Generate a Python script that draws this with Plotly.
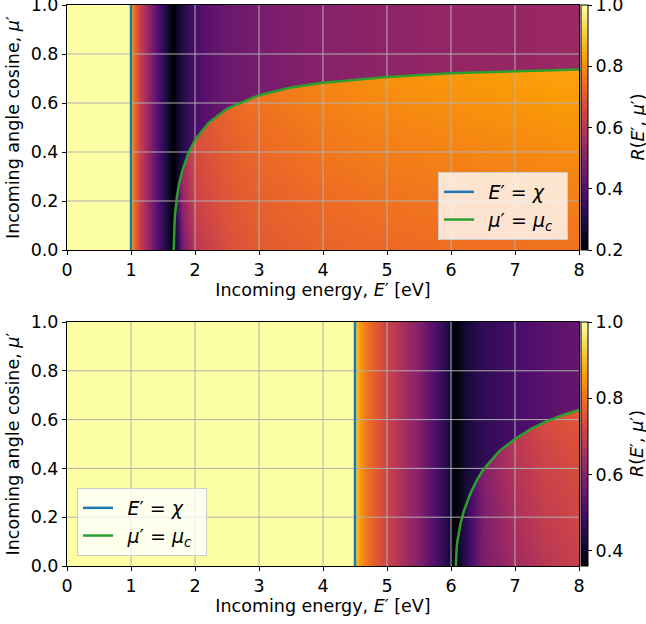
import numpy as np
import plotly.graph_objects as go

# ---------------- data ----------------
X_TICKS = [0, 1, 2, 3, 4, 5, 6, 7, 8]
Y_TICKS = [0.0, 0.2, 0.4, 0.6, 0.8, 1.0]

# Top panel (chi = 1 eV)
CHI_TOP = 1.0
ZMIN_TOP, ZMAX_TOP = 0.2, 1.0
CB_TICKS_TOP = [0.2, 0.4, 0.6, 0.8, 1.0]
E_ABOVE_TOP = [1.0, 1.01, 1.03, 1.06, 1.1, 1.15, 1.2, 1.3, 1.4, 1.5, 1.58, 1.64, 1.67,
               1.72, 1.8, 1.9, 2.0, 2.2, 2.5, 3.0, 4.0, 5.0, 6.0, 7.0, 8.0]
R_ABOVE_TOP = [0.95, 0.85, 0.77, 0.72, 0.67, 0.62, 0.58, 0.49, 0.41, 0.33, 0.26, 0.21, 0.2,
               0.25, 0.3, 0.34, 0.38, 0.41, 0.44, 0.465, 0.495, 0.51, 0.52, 0.527, 0.533]
E_BELOW_TOP = [1.67, 1.8, 2.0, 2.5, 3.0, 4.0, 5.0, 6.0, 7.0, 8.0]
MU_BELOW_TOP = [0.0, 0.25, 0.5, 0.75]
R_BELOW_TOP = [
    [0.20, 0.46, 0.60, 0.67, 0.70, 0.72, 0.73, 0.74, 0.745, 0.75],
    [0.30, 0.53, 0.645, 0.69, 0.715, 0.74, 0.755, 0.765, 0.77, 0.775],
    [0.40, 0.59, 0.67, 0.715, 0.74, 0.765, 0.78, 0.79, 0.80, 0.81],
    [0.50, 0.65, 0.71, 0.745, 0.765, 0.79, 0.81, 0.82, 0.83, 0.84],
]
E_MUC_TOP = [1.668, 1.672, 1.68, 1.69, 1.70, 1.72, 1.75, 1.8, 1.9, 2.0, 2.2, 2.5, 3.0,
             3.5, 4.0, 5.0, 6.0, 7.0, 8.0]
MU_MUC_TOP = [0.0, 0.06, 0.11, 0.15, 0.18, 0.222, 0.268, 0.322, 0.398, 0.448, 0.516, 0.576,
              0.632, 0.663, 0.683, 0.706, 0.721, 0.730, 0.737]

# Bottom panel (chi = 4.5 eV)
CHI_BOT = 4.5
ZMIN_BOT, ZMAX_BOT = 0.36, 1.0
CB_TICKS_BOT = [0.4, 0.6, 0.8, 1.0]
E_ABOVE_BOT = [4.5, 4.52, 4.6, 4.75, 5.0, 5.25, 5.5, 5.75, 5.9, 5.97, 6.02, 6.06, 6.1,
               6.2, 6.35, 6.5, 7.0, 7.5, 8.0]
R_ABOVE_BOT = [0.97, 0.90, 0.84, 0.775, 0.71, 0.65, 0.59, 0.51, 0.46, 0.42, 0.38, 0.36, 0.372,
               0.41, 0.44, 0.46, 0.50, 0.525, 0.545]
E_BELOW_BOT = [6.075, 6.3, 6.5, 7.0, 7.5, 8.0]
MU_BELOW_BOT = [0.0, 0.25, 0.5, 0.75]
R_BELOW_BOT = [
    [0.37, 0.50, 0.58, 0.64, 0.68, 0.70],
    [0.40, 0.49, 0.58, 0.66, 0.70, 0.72],
    [0.45, 0.54, 0.60, 0.68, 0.72, 0.74],
    [0.50, 0.59, 0.64, 0.71, 0.75, 0.77],
]
E_MUC_BOT = [6.075, 6.08, 6.09, 6.1, 6.12, 6.15, 6.2, 6.3, 6.4, 6.5, 6.75, 7.0, 7.25,
             7.5, 7.75, 8.0]
MU_MUC_BOT = [0.0, 0.045, 0.08, 0.102, 0.135, 0.175, 0.225, 0.295, 0.35, 0.393, 0.47,
              0.52, 0.562, 0.594, 0.619, 0.64]

# ---------------- build the raster tables ----------------
E_GRID = np.linspace(0, 8, 513)
MU_GRID = np.linspace(0, 1, 246)


def build_table(chi, e_ab, r_ab, e_be, mu_be, r_be, e_c, mu_c):
    above = np.interp(E_GRID, e_ab, r_ab)
    above[E_GRID < chi] = 1.0
    rows = np.array([np.interp(E_GRID, e_be, row) for row in r_be])
    below = np.empty((len(MU_GRID), len(E_GRID)))
    for j in range(len(E_GRID)):
        below[:, j] = np.interp(MU_GRID, mu_be, rows[:, j])
    muc = np.interp(E_GRID, e_c, mu_c)
    muc[E_GRID < e_c[0]] = -1.0
    mask = MU_GRID[:, None] < muc[None, :]
    z = np.where(mask, below, np.broadcast_to(above, below.shape))
    return np.round(z, 4)


Z_TOP = build_table(CHI_TOP, E_ABOVE_TOP, R_ABOVE_TOP, E_BELOW_TOP, MU_BELOW_TOP,
                    R_BELOW_TOP, E_MUC_TOP, MU_MUC_TOP)
Z_BOT = build_table(CHI_BOT, E_ABOVE_BOT, R_ABOVE_BOT, E_BELOW_BOT, MU_BELOW_BOT,
                    R_BELOW_BOT, E_MUC_BOT, MU_MUC_BOT)

# ---------------- figure ----------------
W, H = 646, 624
FONT = "DejaVu Sans"
FS = 17.5
BLUE = "#1f77b4"
GREEN = "#2ca02c"
GRID = "#b0b0b0"
SP = "\u2002"

X0, X1 = 67, 579
TOP_Y0, TOP_Y1 = 5, 250
BOT_Y0, BOT_Y1 = 322, 566


def fx(px):
    return px / W


def fy(py):
    return 1 - py / H


fig = go.Figure()
annotations = []


def add_panel(n, z, zmin, zmax, cbticks, chi, e_c, mu_c, y0, y1, legend_name):
    xa = "x" if n == 1 else "x2"
    ya = "y" if n == 1 else "y2"
    fig.add_trace(go.Heatmap(
        x=E_GRID, y=MU_GRID, z=z, zmin=zmin, zmax=zmax, colorscale="Inferno",
        xaxis=xa, yaxis=ya, zsmooth=False, hoverinfo="skip", showscale=True,
        colorbar=dict(
            x=fx(X1 + 2), xanchor="left", xpad=0, ypad=0,
            y=fy((y0 + y1) / 2), yanchor="middle", len=(y1 - y0) / H, lenmode="fraction",
            thickness=7, outlinewidth=1, outlinecolor="black",
            tickvals=cbticks, ticktext=[f"{v:.1f}" for v in cbticks],
            ticks="outside", ticklen=4, tickwidth=1, tickcolor="black",
            ticklabeloverflow="allow",
            tickfont=dict(family=FONT, size=FS, color="black"),
        ),
    ))
    annotations.append(dict(
        text="<i>R</i>(<i>E</i>′, <i>μ</i>′)", textangle=-90, showarrow=False,
        xref="paper", yref="paper", x=fx(637), y=fy((y0 + y1) / 2),
        xanchor="center", yanchor="middle",
        font=dict(family=FONT, size=FS, color="black"),
    ))
    # grid lines (drawn over the image, under the curves)
    gx, gy = [], []
    for t in X_TICKS[1:-1]:
        gx += [t, t, None]
        gy += [0, 1, None]
    for t in Y_TICKS[1:-1]:
        gx += [0, 8, None]
        gy += [t, t, None]
    fig.add_trace(go.Scatter(x=gx, y=gy, mode="lines", line=dict(color=GRID, width=1),
                             xaxis=xa, yaxis=ya, showlegend=False, hoverinfo="skip"))
    fig.add_trace(go.Scatter(x=[chi, chi], y=[0, 1], mode="lines",
                             line=dict(color=BLUE, width=2.5),
                             name=SP + "<i>E</i>′ = <i>χ</i>" + SP, legend=legend_name,
                             xaxis=xa, yaxis=ya, hoverinfo="skip"))
    fig.add_trace(go.Scatter(x=e_c, y=mu_c, mode="lines",
                             line=dict(color=GREEN, width=2.5),
                             name=SP + "<i>μ</i>′ = <i>μ</i><sub><i>c</i></sub>" + SP,
                             legend=legend_name,
                             xaxis=xa, yaxis=ya, hoverinfo="skip"))


add_panel(1, Z_TOP, ZMIN_TOP, ZMAX_TOP, CB_TICKS_TOP, CHI_TOP, E_MUC_TOP, MU_MUC_TOP,
          TOP_Y0, TOP_Y1, "legend")
add_panel(2, Z_BOT, ZMIN_BOT, ZMAX_BOT, CB_TICKS_BOT, CHI_BOT, E_MUC_BOT, MU_MUC_BOT,
          BOT_Y0, BOT_Y1, "legend2")


def xaxis(anchor):
    return dict(
        domain=[fx(X0), fx(X1)], anchor=anchor, range=[0, 8], tickvals=X_TICKS,
        ticktext=[str(v) for v in X_TICKS], showgrid=False, zeroline=False,
        showline=True, mirror=True, linecolor="black", linewidth=1,
        ticks="outside", ticklen=4, tickwidth=1, tickcolor="black",
        ticklabeloverflow="allow",
        tickfont=dict(family=FONT, size=FS, color="black"),
        title=dict(text="Incoming energy, <i>E</i>′ [eV]", standoff=4,
                   font=dict(family=FONT, size=FS, color="black")),
        automargin=False,
    )


def yaxis(anchor, y0, y1):
    return dict(
        domain=[fy(y1), fy(y0)], anchor=anchor, range=[0, 1], tickvals=Y_TICKS,
        ticktext=[f"{v:.1f}" for v in Y_TICKS], showgrid=False, zeroline=False,
        showline=True, mirror=True, linecolor="black", linewidth=1,
        ticks="outside", ticklen=4, tickwidth=1, tickcolor="black",
        ticklabeloverflow="allow",
        tickfont=dict(family=FONT, size=FS, color="black"),
        title=dict(text="Incoming angle cosine, <i>μ</i>′", standoff=6,
                   font=dict(family=FONT, size=FS, color="black")),
        automargin=False,
    )


legend_common = dict(
    bgcolor="rgba(255,255,255,0.8)", bordercolor="#cccccc", borderwidth=1,
    font=dict(family=FONT, size=19, color="black"),
)

fig.update_layout(
    width=W, height=H,
    margin=dict(l=0, r=0, t=0, b=0),
    paper_bgcolor="white", plot_bgcolor="white",
    font=dict(family=FONT, size=FS, color="black"),
    xaxis=xaxis("y"), yaxis=yaxis("x", TOP_Y0, TOP_Y1),
    xaxis2=xaxis("y2"), yaxis2=yaxis("x2", BOT_Y0, BOT_Y1),
    legend=dict(x=fx(568), y=fy(240), xanchor="right", yanchor="bottom", **legend_common),
    legend2=dict(x=fx(77), y=fy(556), xanchor="left", yanchor="bottom", **legend_common),
    annotations=annotations,
)

fig.write_html("out.html", config={"displayModeBar": False},
               post_script="document.body.style.margin='0px';")
